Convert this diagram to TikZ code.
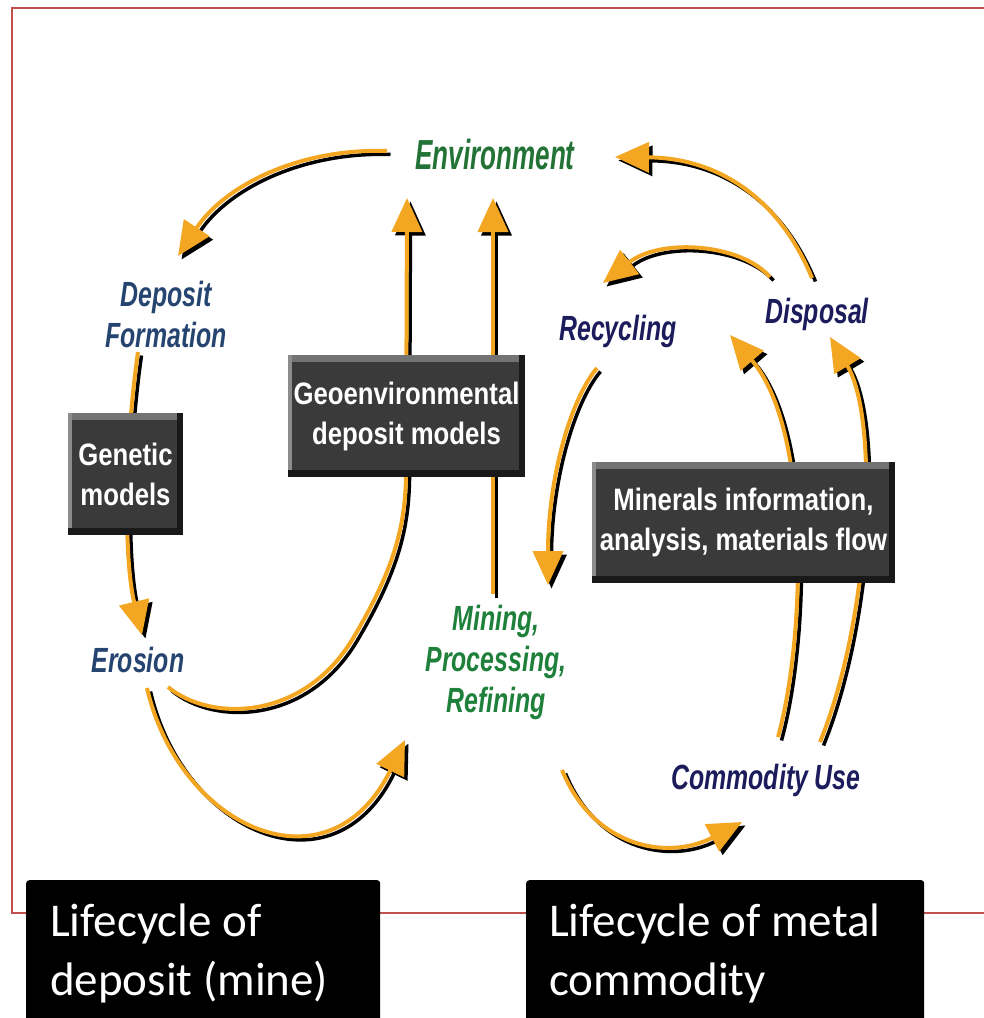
\documentclass[tikz,border=0pt]{standalone}
\usepackage{fontspec}
\setmainfont{Liberation Sans}
\newfontfamily\flowfont[FakeStretch=0.71]{Liberation Sans}
\newfontfamily\envfont[FakeStretch=0.62]{Liberation Sans}
\newfontfamily\boxfont[FakeStretch=0.83]{Liberation Sans}
\newfontfamily\capfont{Carlito}
\usepackage{tikz}
\usetikzlibrary{arrows.meta}
\usetikzlibrary{positioning}
\definecolor{flowor}{RGB}{243,166,33}
\definecolor{envgreen}{RGB}{35,115,55}
\definecolor{minegreen}{RGB}{30,128,58}
\definecolor{depblue}{RGB}{38,68,112}
\definecolor{usenavy}{RGB}{28,28,92}
\definecolor{boxgray}{RGB}{58,58,58}
\definecolor{framered}{RGB}{192,80,77}
\tikzset{
    flow/.style={draw=flowor, line width=4pt, -{Triangle[length=34pt,width=30pt]},
        preaction={draw=black, line width=3.5pt, -{Triangle[length=34pt,width=30pt]},
            transform canvas={shift={(3.5pt,-3.5pt)}}}},
    flowlabel/.style={font=\flowfont\bfseries\itshape\fontsize{35}{41}\selectfont,
        align=center, inner sep=0pt},
    envlabel/.style={font=\envfont\bfseries\itshape\fontsize{42}{48}\selectfont,
        text=envgreen, inner sep=0pt},
    modelbox/.style={fill=boxgray, text=white, align=center, inner sep=0pt,
        font=\boxfont\bfseries\fontsize{31}{40}\selectfont,
        path picture={
            \fill[black!55] (path picture bounding box.north west) rectangle ([yshift=-7pt]path picture bounding box.north east);
            \fill[black!45] (path picture bounding box.north west) rectangle ([xshift=4pt]path picture bounding box.south west);
            \fill[black!90] ([yshift=7pt]path picture bounding box.south west) rectangle (path picture bounding box.south east);
            \fill[black!90] ([xshift=-6pt]path picture bounding box.south east) rectangle (path picture bounding box.north east);
        }},
    capbox/.style={fill=black, rounded corners=3pt, inner sep=0pt},
    captext/.style={font=\capfont\fontsize{47}{59}\selectfont, text=white,
        align=left, inner sep=0pt},
    slideframe/.style={draw=framered, line width=2.5pt},
}

\begin{document}
\begin{tikzpicture}[x=1pt, y=-1pt]
	\useasboundingbox (0,0) rectangle (984,1018);
	\draw[slideframe] (992,8) -- (12,8) -- (12,913) -- (992,913);

	% stages
	\node[envlabel, anchor=base] (env) at (495,169) {Environment};
	\node[flowlabel, text=depblue] (depform) at (166,314) {Deposit\\Formation};
	\node[flowlabel, text=depblue, anchor=base] (erosion) at (138,672) {Erosion};
	\node[flowlabel, text=minegreen] (mining) at (496,662) {Mining,\\Processing,\\Refining};
	\node[flowlabel, text=usenavy, anchor=base] (recycling) at (618,340) {Recycling};
	\node[flowlabel, text=usenavy, anchor=base] (disposal) at (817,323) {Disposal};
	\node[flowlabel, text=usenavy, anchor=base] (use) at (766,789) {Commodity Use};

	% arrow ends
	\coordinate (envtail) at (387,151);
	\coordinate (dephead) at (178,256);
	\coordinate (depfoot) at (138,352);
	\coordinate (erohead) at (142,635);
	\coordinate (erotail) at (168,687);
	\coordinate (erofoot) at (147,688);
	\coordinate (geotop) at (406,477);
	\coordinate (envheadL) at (407,198);
	\coordinate (minetop) at (493,594);
	\coordinate (envheadR) at (493,198);
	\coordinate (minehead) at (405,740);
	\coordinate (minefoot) at (562,770);
	\coordinate (usehead) at (742,822);
	\coordinate (usetailL) at (778,737);
	\coordinate (usetailR) at (820,742);
	\coordinate (reclhead) at (730,335);
	\coordinate (disphead) at (830,337);
	\coordinate (disptailR) at (812,278);
	\coordinate (disptailL) at (770,277);
	\coordinate (envheadE) at (615,157);
	\coordinate (rechead) at (603,283);
	\coordinate (rectail) at (597,368);
	\coordinate (minehead2) at (548,585);

	% deposit lifecycle
	\draw[flow] (envtail) .. controls (300,148) and (225,185) .. (dephead);
	\draw[flow] (depfoot) .. controls (124,450) and (124,560) .. (erohead);
	\draw[flow] (erotail) .. controls (210,722) and (305,722) .. (355,635)
		.. controls (392,572) and (405,530) .. (geotop) -- (envheadL);
	\draw[flow] (erofoot) .. controls (180,830) and (330,895) .. (minehead);
	\draw[flow] (minetop) -- (envheadR);
	% commodity lifecycle
	\draw[flow] (minefoot) .. controls (595,850) and (670,860) .. (usehead);
	\draw[flow] (usetailL) .. controls (805,640) and (812,430) .. (reclhead);
	\draw[flow] (usetailR) .. controls (870,620) and (880,420) .. (disphead);
	\draw[flow] (disptailR) .. controls (780,200) and (720,158) .. (envheadE);
	\draw[flow] (disptailL) .. controls (740,243) and (660,238) .. (rechead);
	\draw[flow] (rectail) .. controls (570,400) and (548,480) .. (minehead2);

	% models
	\node[modelbox, minimum width=115pt, minimum height=122pt] (genetic) at (125.5,474) {Genetic\\models};
	\node[modelbox, minimum width=237pt, minimum height=122pt] (geomodels) at (406.5,416) {Geoenvironmental\\deposit models};
	\node[modelbox, minimum width=303pt, minimum height=121pt] (minerals) at (743.5,522.5) {Minerals information,\\analysis, materials flow};

	% captions
	\node[capbox, anchor=north west, minimum width=354pt, minimum height=150pt] (mineframe) at (26,880) {};
	\node[captext, anchor=north west] (minecap) at ([xshift=24pt,yshift=-24pt]mineframe.north west) {Lifecycle of\\deposit (mine)};
	\node[capbox, anchor=north west, minimum width=398pt, minimum height=150pt] (metalframe) at (526,880) {};
	\node[captext, anchor=north west] (metalcap) at ([xshift=23pt,yshift=-24pt]metalframe.north west) {Lifecycle of metal\\commodity};
\end{tikzpicture}
\end{document}
